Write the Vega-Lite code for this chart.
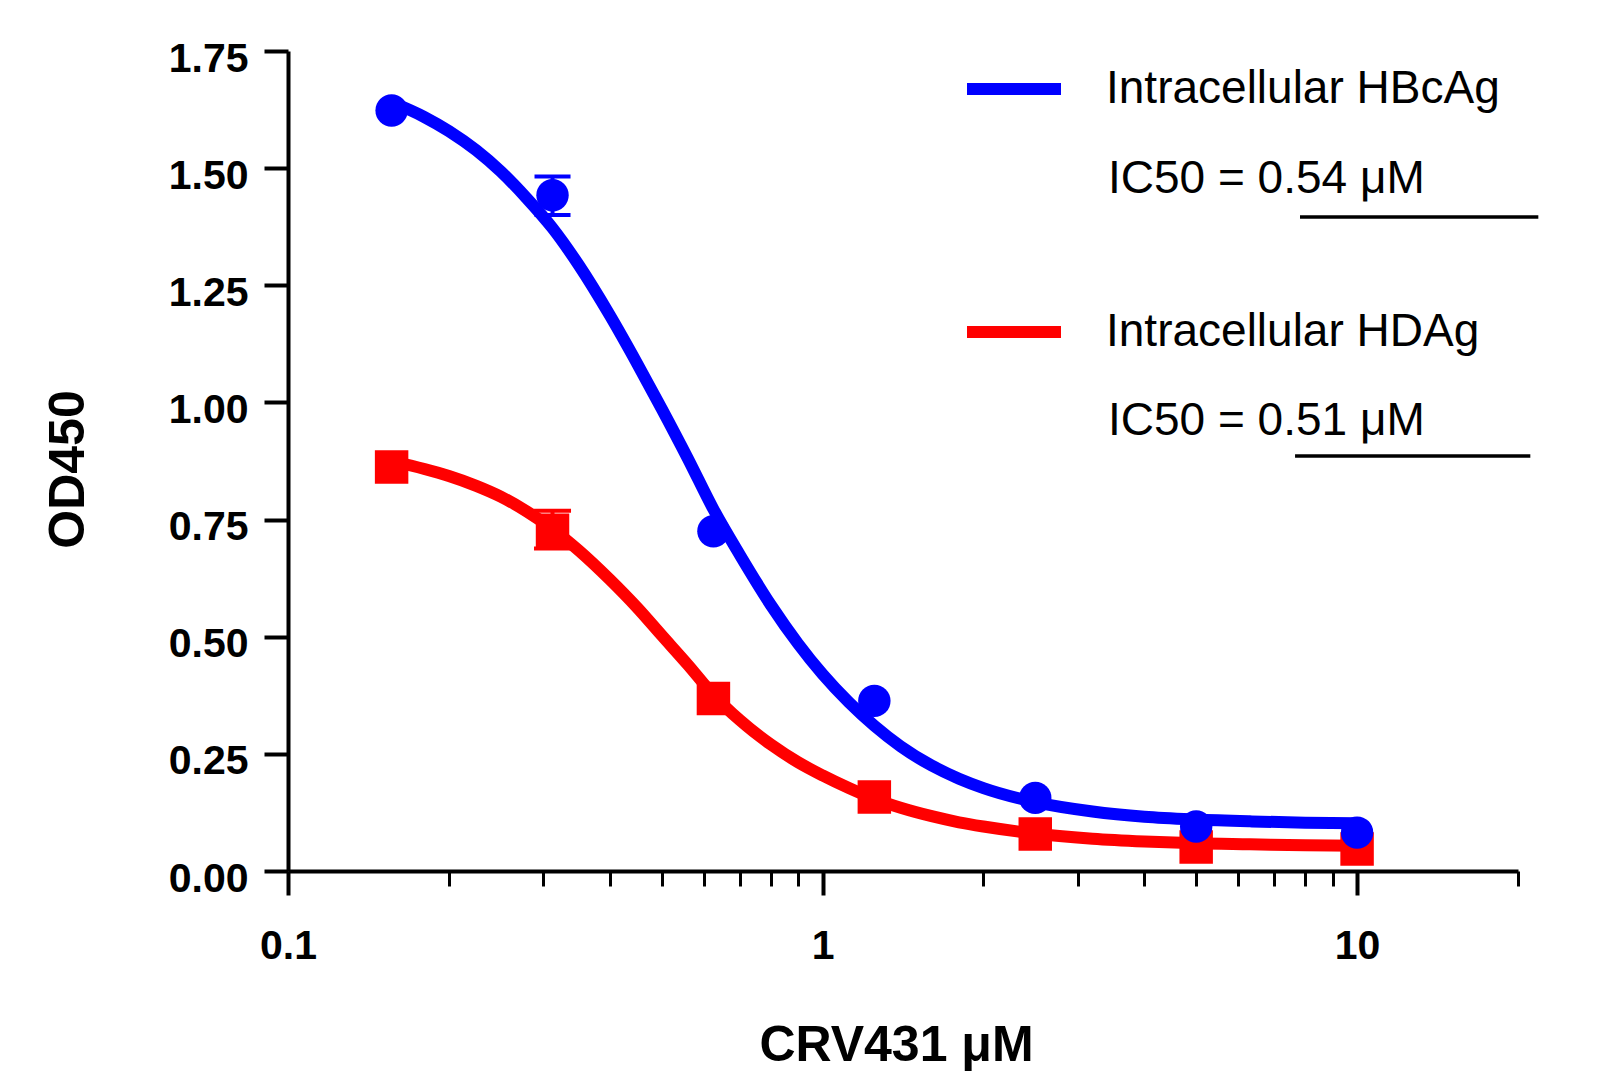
{
  "$schema": "https://vega.github.io/schema/vega-lite/v6.json",
  "width": 1230,
  "height": 820,
  "autosize": {"type": "none"},
  "padding": {"left": 288, "top": 51, "right": 86, "bottom": 206},
  "background": "white",
  "config": {"view": {"stroke": null}, "font": "Liberation Sans"},
  "datasets": {
    "curve": [
      {"series": "Intracellular HBcAg", "conc": 0.156, "od": 1.641},
      {"series": "Intracellular HBcAg", "conc": 0.18, "od": 1.609},
      {"series": "Intracellular HBcAg", "conc": 0.2, "od": 1.579},
      {"series": "Intracellular HBcAg", "conc": 0.225, "od": 1.538},
      {"series": "Intracellular HBcAg", "conc": 0.25, "od": 1.493},
      {"series": "Intracellular HBcAg", "conc": 0.28, "od": 1.435},
      {"series": "Intracellular HBcAg", "conc": 0.3125, "od": 1.372},
      {"series": "Intracellular HBcAg", "conc": 0.35, "od": 1.293},
      {"series": "Intracellular HBcAg", "conc": 0.4, "od": 1.186},
      {"series": "Intracellular HBcAg", "conc": 0.45, "od": 1.083},
      {"series": "Intracellular HBcAg", "conc": 0.5, "od": 0.987},
      {"series": "Intracellular HBcAg", "conc": 0.56, "od": 0.88},
      {"series": "Intracellular HBcAg", "conc": 0.625, "od": 0.772},
      {"series": "Intracellular HBcAg", "conc": 0.7, "od": 0.675},
      {"series": "Intracellular HBcAg", "conc": 0.8, "od": 0.568},
      {"series": "Intracellular HBcAg", "conc": 0.9, "od": 0.485},
      {"series": "Intracellular HBcAg", "conc": 1.0, "od": 0.42},
      {"series": "Intracellular HBcAg", "conc": 1.12, "od": 0.36},
      {"series": "Intracellular HBcAg", "conc": 1.25, "od": 0.31},
      {"series": "Intracellular HBcAg", "conc": 1.4, "od": 0.266},
      {"series": "Intracellular HBcAg", "conc": 1.6, "od": 0.225},
      {"series": "Intracellular HBcAg", "conc": 1.8, "od": 0.197},
      {"series": "Intracellular HBcAg", "conc": 2.0, "od": 0.177},
      {"series": "Intracellular HBcAg", "conc": 2.5, "od": 0.147},
      {"series": "Intracellular HBcAg", "conc": 3.2, "od": 0.127},
      {"series": "Intracellular HBcAg", "conc": 4.0, "od": 0.116},
      {"series": "Intracellular HBcAg", "conc": 5.0, "od": 0.11},
      {"series": "Intracellular HBcAg", "conc": 6.3, "od": 0.106},
      {"series": "Intracellular HBcAg", "conc": 8.0, "od": 0.103},
      {"series": "Intracellular HBcAg", "conc": 10, "od": 0.102},
      {"series": "Intracellular HDAg", "conc": 0.156, "od": 0.875},
      {"series": "Intracellular HDAg", "conc": 0.18, "od": 0.858},
      {"series": "Intracellular HDAg", "conc": 0.2, "od": 0.843},
      {"series": "Intracellular HDAg", "conc": 0.225, "od": 0.822},
      {"series": "Intracellular HDAg", "conc": 0.25, "od": 0.799},
      {"series": "Intracellular HDAg", "conc": 0.28, "od": 0.767},
      {"series": "Intracellular HDAg", "conc": 0.3125, "od": 0.73},
      {"series": "Intracellular HDAg", "conc": 0.35, "od": 0.684},
      {"series": "Intracellular HDAg", "conc": 0.4, "od": 0.622},
      {"series": "Intracellular HDAg", "conc": 0.45, "od": 0.562},
      {"series": "Intracellular HDAg", "conc": 0.5, "od": 0.503},
      {"series": "Intracellular HDAg", "conc": 0.56, "od": 0.44},
      {"series": "Intracellular HDAg", "conc": 0.625, "od": 0.376},
      {"series": "Intracellular HDAg", "conc": 0.7, "od": 0.322},
      {"series": "Intracellular HDAg", "conc": 0.8, "od": 0.27},
      {"series": "Intracellular HDAg", "conc": 0.9, "od": 0.232},
      {"series": "Intracellular HDAg", "conc": 1.0, "od": 0.204},
      {"series": "Intracellular HDAg", "conc": 1.12, "od": 0.177},
      {"series": "Intracellular HDAg", "conc": 1.25, "od": 0.154},
      {"series": "Intracellular HDAg", "conc": 1.4, "od": 0.135},
      {"series": "Intracellular HDAg", "conc": 1.6, "od": 0.117},
      {"series": "Intracellular HDAg", "conc": 1.8, "od": 0.104},
      {"series": "Intracellular HDAg", "conc": 2.0, "od": 0.095},
      {"series": "Intracellular HDAg", "conc": 2.5, "od": 0.08},
      {"series": "Intracellular HDAg", "conc": 3.2, "od": 0.069},
      {"series": "Intracellular HDAg", "conc": 4.0, "od": 0.063},
      {"series": "Intracellular HDAg", "conc": 5.0, "od": 0.059},
      {"series": "Intracellular HDAg", "conc": 6.3, "od": 0.057},
      {"series": "Intracellular HDAg", "conc": 8.0, "od": 0.055},
      {"series": "Intracellular HDAg", "conc": 10, "od": 0.054}
    ],
    "points": [
      {"series": "Intracellular HBcAg", "conc": 0.15625, "od": 1.623},
      {"series": "Intracellular HBcAg", "conc": 0.3125, "od": 1.442, "lo": 1.4, "hi": 1.482},
      {"series": "Intracellular HBcAg", "conc": 0.625, "od": 0.725},
      {"series": "Intracellular HBcAg", "conc": 1.25, "od": 0.363},
      {"series": "Intracellular HBcAg", "conc": 2.5, "od": 0.156},
      {"series": "Intracellular HBcAg", "conc": 5, "od": 0.095},
      {"series": "Intracellular HBcAg", "conc": 10, "od": 0.082},
      {"series": "Intracellular HDAg", "conc": 0.15625, "od": 0.862},
      {"series": "Intracellular HDAg", "conc": 0.3125, "od": 0.727, "lo": 0.688, "hi": 0.769},
      {"series": "Intracellular HDAg", "conc": 0.625, "od": 0.368},
      {"series": "Intracellular HDAg", "conc": 1.25, "od": 0.158},
      {"series": "Intracellular HDAg", "conc": 2.5, "od": 0.079},
      {"series": "Intracellular HDAg", "conc": 5, "od": 0.051},
      {"series": "Intracellular HDAg", "conc": 10, "od": 0.047}
    ],
    "ic50": [
      {"series": "Intracellular HBcAg", "label": "IC50 = 0.54 μM"},
      {"series": "Intracellular HDAg", "label": "IC50 = 0.51 μM"}
    ]
  },
  "layer": [
    {
      "data": {"name": "curve"},
      "mark": {"type": "line", "strokeWidth": 12, "interpolate": "monotone", "strokeCap": "round", "strokeJoin": "round"},
      "encoding": {
        "x": {
          "field": "conc", "type": "quantitative", "title": "CRV431 μM",
          "scale": {"type": "log", "domain": [0.1, 20], "nice": false},
          "axis": {
            "values": [0.1, 0.2, 0.3, 0.4, 0.5, 0.6, 0.7, 0.8, 0.9, 1, 2, 3, 4, 5, 6, 7, 8, 9, 10, 20],
            "format": "~g",
            "labelExpr": "(datum.value === 0.1 || datum.value === 1 || datum.value === 10) ? datum.label : ''",
            "tickSize": {"condition": {"test": "datum.value === 0.1 || datum.value === 1 || datum.value === 10", "value": 24}, "value": 15},
            "tickWidth": {"condition": {"test": "datum.value === 0.1 || datum.value === 1 || datum.value === 10", "value": 4}, "value": 3},
            "tickColor": "black", "domainColor": "black", "domainWidth": 4,
            "labelFont": "Liberation Sans", "labelFontWeight": "bold", "labelFontSize": 41, "labelColor": "black",
            "labelBaseline": "alphabetic", "labelPadding": 63, "labelFlush": false, "labelOverlap": false,
            "grid": false,
            "titleFont": "Liberation Sans", "titleFontWeight": "bold", "titleFontSize": 50, "titleColor": "black",
            "titleX": 608, "titleY": 189, "titleAlign": "center", "titleBaseline": "alphabetic"
          }
        },
        "y": {
          "field": "od", "type": "quantitative", "title": "OD450",
          "scale": {"domain": [0, 1.75], "nice": false},
          "axis": {
            "values": [0, 0.25, 0.5, 0.75, 1, 1.25, 1.5, 1.75],
            "format": ".2f",
            "tickSize": 24, "tickWidth": 4, "tickColor": "black", "domainColor": "black", "domainWidth": 4,
            "labelFont": "Liberation Sans", "labelFontWeight": "bold", "labelFontSize": 41, "labelColor": "black",
            "labelBaseline": "alphabetic", "labelOffset": 20, "labelPadding": 16, "labelFlush": false, "labelOverlap": false,
            "grid": false,
            "titleFont": "Liberation Sans", "titleFontWeight": "bold", "titleFontSize": 50, "titleColor": "black",
            "titleX": -205, "titleY": 418, "titleAngle": 270, "titleAlign": "center", "titleBaseline": "alphabetic"
          }
        },
        "color": {
          "field": "series", "type": "nominal",
          "scale": {"domain": ["Intracellular HBcAg", "Intracellular HDAg"], "range": ["#0000ff", "#ff0000"]},
          "legend": {
            "title": null, "orient": "none", "legendX": 673, "legendY": -15,
            "symbolType": "stroke", "symbolSize": 8836, "symbolStrokeWidth": 12, "symbolOpacity": 1,
            "labelFont": "Liberation Sans", "labelFontSize": 46, "labelColor": "black",
            "labelOffset": 39, "labelLimit": 1000, "rowPadding": 166, "padding": 0
          }
        }
      }
    },
    {
      "data": {"name": "points"},
      "transform": [{"filter": "datum.series === 'Intracellular HDAg' && isValid(datum.lo)"}],
      "mark": {"type": "errorbar", "ticks": {"size": 37, "opacity": 1}, "rule": {"opacity": 1}, "thickness": 4, "color": "#ff0000", "opacity": 1},
      "encoding": {
        "x": {"field": "conc", "type": "quantitative", "title": "CRV431 μM"},
        "y": {"field": "lo", "type": "quantitative", "title": "OD450"},
        "y2": {"field": "hi"}
      }
    },
    {
      "data": {"name": "points"},
      "transform": [{"filter": "datum.series === 'Intracellular HDAg'"}],
      "mark": {"type": "point", "shape": "square", "filled": true, "size": 1120, "color": "#ff0000", "opacity": 1},
      "encoding": {
        "x": {"field": "conc", "type": "quantitative", "title": "CRV431 μM"},
        "y": {"field": "od", "type": "quantitative", "title": "OD450"}
      }
    },
    {
      "data": {"name": "points"},
      "transform": [{"filter": "datum.series === 'Intracellular HBcAg' && isValid(datum.lo)"}],
      "mark": {"type": "errorbar", "ticks": {"size": 36, "opacity": 1}, "rule": {"opacity": 1}, "thickness": 4, "color": "#0000ff", "opacity": 1},
      "encoding": {
        "x": {"field": "conc", "type": "quantitative", "title": "CRV431 μM"},
        "y": {"field": "lo", "type": "quantitative", "title": "OD450"},
        "y2": {"field": "hi"}
      }
    },
    {
      "data": {"name": "points"},
      "transform": [{"filter": "datum.series === 'Intracellular HBcAg'"}],
      "mark": {"type": "point", "shape": "circle", "filled": true, "size": 1050, "color": "#0000ff", "opacity": 1},
      "encoding": {
        "x": {"field": "conc", "type": "quantitative", "title": "CRV431 μM"},
        "y": {"field": "od", "type": "quantitative", "title": "OD450"}
      }
    },
    {
      "data": {"name": "ic50"},
      "transform": [{"filter": "datum.series === 'Intracellular HBcAg'"}],
      "mark": {"type": "text", "align": "left", "baseline": "alphabetic", "font": "Liberation Sans", "fontSize": 46, "color": "black"},
      "encoding": {
        "x": {"datum": 3.42, "type": "quantitative"},
        "y": {"datum": 1.447, "type": "quantitative"},
        "text": {"field": "label"}
      }
    },
    {
      "data": {"name": "ic50"},
      "transform": [{"filter": "datum.series === 'Intracellular HDAg'"}],
      "mark": {"type": "text", "align": "left", "baseline": "alphabetic", "font": "Liberation Sans", "fontSize": 46, "color": "black"},
      "encoding": {
        "x": {"datum": 3.42, "type": "quantitative"},
        "y": {"datum": 0.9305, "type": "quantitative"},
        "text": {"field": "label"}
      }
    },
    {
      "data": {"name": "ic50"},
      "transform": [{"filter": "datum.series === 'Intracellular HBcAg'"}],
      "mark": {"type": "rule", "strokeWidth": 3.5, "color": "black"},
      "encoding": {
        "x": {"datum": 7.82, "type": "quantitative"},
        "x2": {"datum": 21.83},
        "y": {"datum": 1.3957, "type": "quantitative"}
      }
    },
    {
      "data": {"name": "ic50"},
      "transform": [{"filter": "datum.series === 'Intracellular HDAg'"}],
      "mark": {"type": "rule", "strokeWidth": 3.5, "color": "black"},
      "encoding": {
        "x": {"datum": 7.655, "type": "quantitative"},
        "x2": {"datum": 21.09},
        "y": {"datum": 0.8857, "type": "quantitative"}
      }
    }
  ]
}
